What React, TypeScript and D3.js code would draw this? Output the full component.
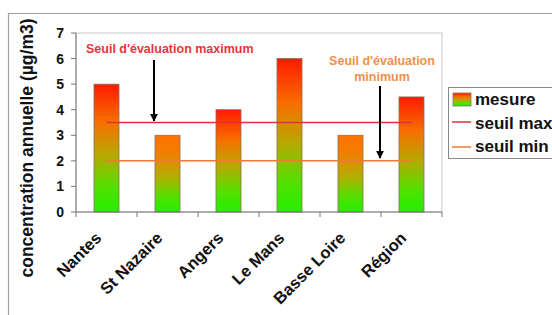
import React from "react";
import * as d3 from "d3";

const categories = ["Nantes", "St Nazaire", "Angers", "Le Mans", "Basse Loire", "Région"];
const mesure = [5, 3, 4, 6, 3, 4.5];
const seuilMax = 3.5;
const seuilMin = 2;
const yTicks = [0, 1, 2, 3, 4, 5, 6, 7];
const legendLabels = ["mesure", "seuil max", "seuil min"];

const W = 552;
const H = 315;
const plot = { left: 76, top: 33, right: 442, bottom: 212 };
const FONT = "'Liberation Sans', Arial, sans-serif";

export default function App() {
  const x = d3
    .scaleBand<string>()
    .domain(categories)
    .range([plot.left, plot.right])
    .paddingInner(0)
    .paddingOuter(0);
  const y = d3.scaleLinear().domain([0, 7]).range([plot.bottom, plot.top]);
  const bw = x.bandwidth() * 0.41;
  const cx = (c: string) => (x(c) as number) + x.bandwidth() / 2;
  const lineX0 = cx(categories[0]);
  const lineX1 = cx(categories[categories.length - 1]);

  return (
    <svg
      width={W}
      height={H}
      style={{ position: "absolute", left: 0, top: 0, background: "#fff" }}
      fontFamily={FONT}
    >
      <defs>
        <linearGradient id="gRed" x1="0" y1="0" x2="0" y2="1">
          <stop offset="0" stopColor="#ff1a00" />
          <stop offset="0.3" stopColor="#f77000" />
          <stop offset="0.55" stopColor="#b8a800" />
          <stop offset="0.8" stopColor="#55e000" />
          <stop offset="1" stopColor="#22f000" />
        </linearGradient>
        <linearGradient id="gOrange" x1="0" y1="0" x2="0" y2="1">
          <stop offset="0" stopColor="#ff7000" />
          <stop offset="0.25" stopColor="#f08000" />
          <stop offset="0.55" stopColor="#b0b000" />
          <stop offset="0.8" stopColor="#55e000" />
          <stop offset="1" stopColor="#22f000" />
        </linearGradient>
        <marker id="arrow" viewBox="0 0 10 10" refX="9" refY="5" markerWidth="4" markerHeight="4" orient="auto">
          <path d="M0,0 L10,5 L0,10 z" fill="#000" />
        </marker>
      </defs>

      {/* outer frame */}
      <line x1={8} y1={13.5} x2={W} y2={13.5} stroke="#a0a0a0" strokeWidth={1.2} />
      <line x1={8.5} y1={13} x2={8.5} y2={H} stroke="#a0a0a0" strokeWidth={1.2} />

      {/* plot area border */}
      <rect
        x={plot.left}
        y={plot.top}
        width={plot.right - plot.left}
        height={plot.bottom - plot.top}
        fill="none"
        stroke="#c8c8c8"
        strokeWidth={1}
      />

      {/* bars */}
      {categories.map((c, i) => (
        <rect
          key={c}
          x={cx(c) - bw / 2}
          y={y(mesure[i])}
          width={bw}
          height={y(0) - y(mesure[i])}
          fill={mesure[i] > seuilMax ? "url(#gRed)" : "url(#gOrange)"}
          stroke="#8a7060"
          strokeWidth={0.8}
        />
      ))}

      {/* threshold lines */}
      <line x1={lineX0} x2={lineX1} y1={y(seuilMax)} y2={y(seuilMax)} stroke="#e0303c" strokeWidth={1.5} />
      <line x1={lineX0} x2={lineX1} y1={y(seuilMin)} y2={y(seuilMin)} stroke="#f07a30" strokeWidth={1.5} />

      {/* y axis */}
      <line x1={plot.left} x2={plot.left} y1={plot.top} y2={plot.bottom} stroke="#777" strokeWidth={1} />
      {yTicks.map((t) => (
        <g key={t}>
          <line x1={plot.left - 5} x2={plot.left} y1={y(t)} y2={y(t)} stroke="#777" />
          <text x={64} y={y(t)} dy="0.36em" textAnchor="end" fontSize={14} fontWeight="bold" fill="#111">
            {t}
          </text>
        </g>
      ))}

      {/* x axis */}
      <line x1={plot.left} x2={plot.right} y1={plot.bottom} y2={plot.bottom} stroke="#777" strokeWidth={1} />
      {[...categories.map((c) => x(c) as number), plot.right].map((bx, i) => (
        <line key={i} x1={bx} x2={bx} y1={plot.bottom} y2={plot.bottom + 5} stroke="#777" />
      ))}
      {categories.map((c) => (
        <text
          key={c}
          transform={`translate(${cx(c) - 4},${plot.bottom + 27}) rotate(-45)`}
          textAnchor="end"
          fontSize={16.5}
          fontWeight="bold"
          fill="#111"
        >
          {c}
        </text>
      ))}

      {/* y axis title */}
      <text
        transform={`translate(33,${148}) rotate(-90)`}
        textAnchor="middle"
        fontSize={17.5}
        fontWeight="bold"
        fill="#111"
      >
        concentration annuelle (µg/m3)
      </text>

      {/* annotations */}
      <text x={86} y={53} fontSize={12.5} fontWeight="bold" fill="#e8343e">
        Seuil d'évaluation maximum
      </text>
      <line x1={154} x2={154} y1={60} y2={121} stroke="#000" strokeWidth={2} markerEnd="url(#arrow)" />

      <text x={382} y={65} fontSize={12.5} fontWeight="bold" fill="#f0904a" textAnchor="middle">
        Seuil d'évaluation
      </text>
      <text x={382} y={81} fontSize={12.5} fontWeight="bold" fill="#f0904a" textAnchor="middle">
        minimum
      </text>
      <line x1={380} x2={380} y1={86} y2={158} stroke="#000" strokeWidth={2} markerEnd="url(#arrow)" />

      {/* legend */}
      <rect x={448.5} y={87.5} width={120} height={71} fill="#fff" stroke="#888" strokeWidth={1} />
      <rect x={453} y={93} width={18} height={13} fill="url(#gRed)" stroke="#8a7060" strokeWidth={0.8} />
      <line x1={452} x2={471} y1={122} y2={122} stroke="#e0303c" strokeWidth={1.5} />
      <line x1={452} x2={471} y1={147} y2={147} stroke="#f07a30" strokeWidth={1.5} />
      {legendLabels.map((l, i) => (
        <text key={l} x={475} y={105 + i * 23.5} fontSize={17} fontWeight="bold" fill="#111">
          {l}
        </text>
      ))}
    </svg>
  );
}
